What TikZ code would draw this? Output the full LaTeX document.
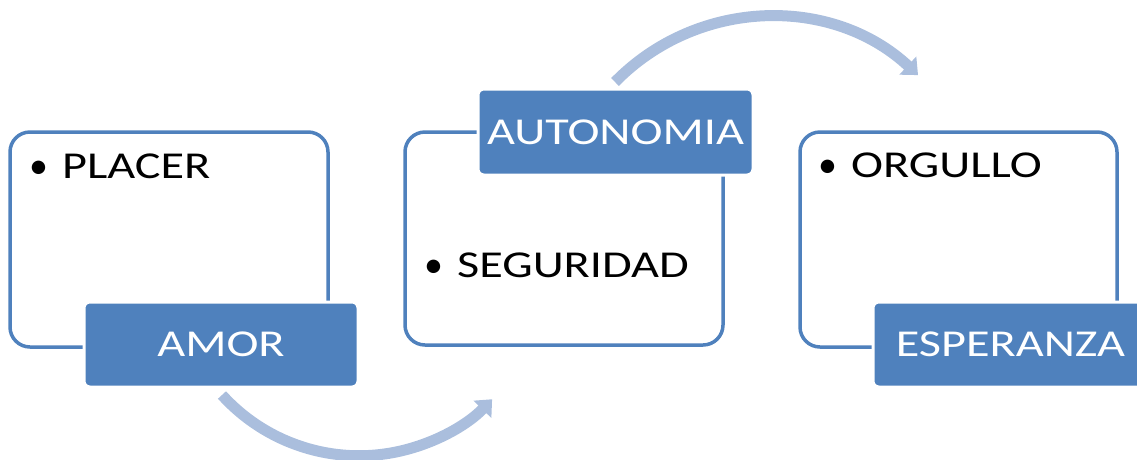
\documentclass[tikz,border=0pt]{standalone}
\usepackage{fontspec}
\setmainfont{Carlito}
\usetikzlibrary{arrows.meta}
\definecolor{boxblue}{RGB}{79,129,189}
\definecolor{arrowblue}{RGB}{170,190,221}
\newcommand{\sx}[1]{\scalebox{1.27}[1]{#1}}
\tikzset{
  x=1pt, y=-1pt,
  panel/.style={draw=boxblue, line width=3.5pt, fill=white, rounded corners=20pt},
  tag/.style={draw=white, line width=3pt, fill=boxblue, rounded corners=6pt,
    text=white, font=\fontsize{38}{40}\selectfont, inner sep=0pt},
  item/.style={anchor=base west, inner sep=0pt, font=\fontsize{38}{40}\selectfont},
  flow/.style={draw=arrowblue, line width=11pt,
    -{Triangle[width=24pt,length=14pt]}}
}
\begin{document}
\begin{tikzpicture}
\useasboundingbox (0,0) rectangle (1137,459);
\clip (0,0) rectangle (1137,459);
% arrows
\coordinate (a1s) at (222,395);
\coordinate (a2s) at (615,82);
\draw[flow] (a1s) arc[start angle=137.8, end angle=44, radius=185];
\draw[flow] (a2s) arc[start angle=224.4, end angle=313, radius=217];
% panels
\draw[panel] (10,132) rectangle (328,347);
\draw[panel] (405,132) rectangle (723,345);
\draw[panel] (800,132) rectangle (1117,347);
% items
\node[item] (placer) at (29,178) {\textbullet\hspace{14pt}\sx{PLACER}};
\node[item] (seguridad) at (424,277) {\textbullet\hspace{14pt}\sx{SEGURIDAD}};
\node[item] (orgullo) at (818,177) {\textbullet\hspace{14pt}\sx{ORGULLO}};
% tags
\node[tag, minimum width=274pt, minimum height=85pt] (amor) at (221,344.5) {\sx{AMOR}};
\node[tag, minimum width=275pt, minimum height=86pt] (autonomia) at (615.5,132) {\sx{AUTONOMIA}};
\node[tag, minimum width=275pt, minimum height=85pt] (esperanza) at (1010.5,344.5) {\sx{ESPERANZA}};
\end{tikzpicture}
\end{document}
